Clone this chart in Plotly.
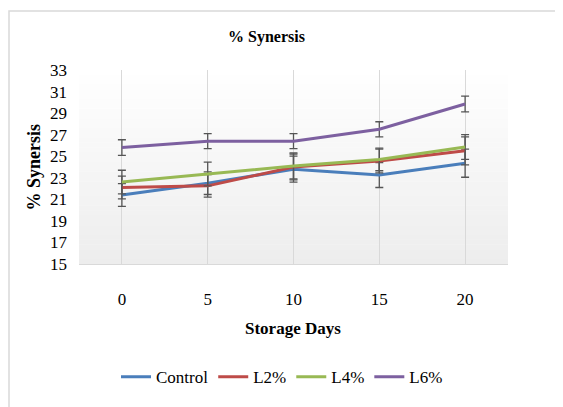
import plotly.graph_objects as go

days = ["0", "5", "10", "15", "20"]
series_names = ["Control", "L2%", "L4%", "L6%"]
control = [21.4, 22.5, 23.8, 23.25, 24.35]
l2 = [22.1, 22.25, 24.0, 24.55, 25.5]
l4 = [22.6, 23.35, 24.1, 24.7, 25.85]
l6 = [25.8, 26.4, 26.4, 27.5, 29.85]
err_control = [1.05, 1.05, 1.2, 1.15, 1.3]
err_l2 = [1.05, 1.05, 1.2, 1.1, 1.3]
err_l4 = [1.1, 1.1, 1.2, 1.05, 1.15]
err_l6 = [0.73, 0.69, 0.69, 0.7, 0.73]
y_ticks = [15, 17, 19, 21, 23, 25, 27, 29, 31, 33]

colors = ["#4A7EBB", "#BE4B48", "#98B954", "#7D60A0"]
values = [control, l2, l4, l6]
errors = [err_control, err_l2, err_l4, err_l6]

FONT = "Liberation Serif"
OFF = 8  # page body margin
W, H = 563 - OFF, 407 - OFF
PL, PR, PT, PB = 79, 508, 70, 267  # plot area in page pixels
pw, ph = PR - PL, PB - PT


def px(x):
    return (x - PL) / pw


def py(y):
    return (PB - y) / ph


fig = go.Figure()
for name, v, e, c in zip(series_names, values, errors, colors):
    fig.add_trace(go.Scatter(
        x=days, y=v, name=name, mode="lines",
        line=dict(color=c, width=3),
        error_y=dict(type="data", array=e, visible=True, color="#555555",
                     thickness=1.3, width=4),
    ))

# gradient background of the plot area
shapes = []
n = 40
for i in range(n):
    t = i / n
    g = int(round(255 - (255 - 237) * (1 - t - 0.5 / n)))
    shapes.append(dict(type="rect", xref="paper", yref="paper",
                       x0=0, x1=1, y0=t, y1=t + 1.0 / n + 0.002,
                       fillcolor=f"rgb({g},{g},{g})", line=dict(width=0),
                       layer="below"))
# chart border
shapes.append(dict(type="rect", xref="paper", yref="paper",
                   x0=px(9), x1=px(570), y0=py(420), y1=py(10),
                   line=dict(color="#d9d9d9", width=1.5), fillcolor="rgba(0,0,0,0)",
                   layer="below"))

fig.update_layout(
    width=W, height=H,
    margin=dict(l=PL - OFF, r=W - (PR - OFF), t=PT - OFF, b=H - (PB - OFF)),
    paper_bgcolor="white",
    plot_bgcolor="rgba(0,0,0,0)",
    font=dict(family=FONT, size=15, color="#000000"),
    shapes=shapes,
    showlegend=True,
    legend=dict(orientation="h", x=px(116), xanchor="left", y=py(382), yanchor="middle",
                font=dict(family=FONT, size=17, color="#000000"),
                itemwidth=30, tracegroupgap=0, bgcolor="rgba(0,0,0,0)"),
    annotations=[
        dict(text="<b>% Synersis</b>", xref="paper", yref="paper",
             x=px(266), y=py(36), showarrow=False,
             xanchor="center", yanchor="middle", font=dict(family=FONT, size=16)),
        dict(text="<b>% Synersis</b>", xref="paper", yref="paper",
             x=px(34), y=py(169), showarrow=False, textangle=-90,
             xanchor="center", yanchor="middle", font=dict(family=FONT, size=18)),
        dict(text="<b>Storage Days</b>", xref="paper", yref="paper",
             x=px(293), y=py(332), showarrow=False,
             xanchor="center", yanchor="middle", font=dict(family=FONT, size=17)),
    ],
)

fig.update_xaxes(
    type="category", range=[-0.5, 4.5],
    showgrid=True, gridcolor="#d9d9d9", gridwidth=1,
    showline=True, linecolor="#d9d9d9", linewidth=1,
    ticks="", ticklabelstandoff=20,
    tickfont=dict(family=FONT, size=17),
    zeroline=False,
)
fig.update_yaxes(
    range=[15, 33], tickvals=y_ticks,
    showgrid=False, showline=False, zeroline=False,
    ticks="", ticklabelstandoff=11,
    tickfont=dict(family=FONT, size=17),
)

fig.write_html("out.html")
